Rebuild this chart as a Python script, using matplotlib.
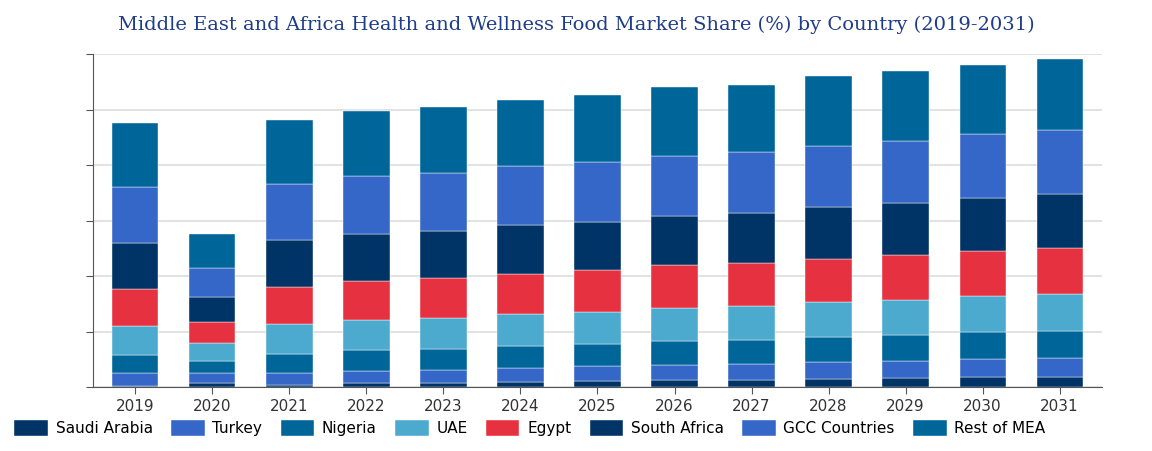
import matplotlib
matplotlib.use("Agg")
import matplotlib.pyplot as plt
import numpy as np

years = [str(y) for y in range(2019, 2032)]
series = ["Saudi Arabia", "Turkey", "Nigeria", "UAE", "Egypt", "South Africa", "GCC Countries", "Rest of MEA"]
saudi = [0.24, 0.8, 0.4, 0.66, 0.7, 0.9, 1.1, 1.3, 1.3, 1.4, 1.6, 1.8, 1.8]
turkey = [2.2, 1.7, 2.2, 2.3, 2.3, 2.5, 2.7, 2.7, 2.9, 3.1, 3.1, 3.2, 3.4]
nigeria = [3.4, 2.2, 3.4, 3.7, 3.8, 4.0, 4.0, 4.3, 4.3, 4.5, 4.7, 4.9, 4.9]
uae = [5.1, 3.2, 5.3, 5.4, 5.6, 5.8, 5.8, 6.0, 6.1, 6.3, 6.3, 6.5, 6.7]
egypt = [6.8, 3.8, 6.8, 7.0, 7.2, 7.2, 7.4, 7.6, 7.8, 7.8, 8.0, 8.1, 8.3]
south_africa = [8.2, 4.5, 8.4, 8.5, 8.5, 8.8, 8.8, 9.0, 9.0, 9.4, 9.4, 9.6, 9.6]
gcc = [10.1, 5.3, 10.1, 10.4, 10.5, 10.6, 10.8, 10.8, 11.0, 11.0, 11.2, 11.4, 11.6]
rest = [11.5, 6.1, 11.5, 11.7, 11.9, 11.9, 12.1, 12.3, 12.1, 12.6, 12.6, 12.6, 12.8]
data = [saudi, turkey, nigeria, uae, egypt, south_africa, gcc, rest]
colors = ["#003366", "#3467c8", "#006699", "#4daacf", "#e63240", "#003366", "#3467c8", "#006699"]

fig = plt.figure(figsize=(11.52, 4.51), dpi=100)
ax = fig.add_axes([93/1152, 1-387/451, (1102-93)/1152, (387-54)/451])
x = np.arange(len(years))
bottom = np.zeros(len(years))
for name, vals, c in zip(series, data, colors):
    ax.bar(x, vals, 0.6, bottom=bottom, color=c, label=name, edgecolor="#ffffff", linewidth=0.3, zorder=3)
    bottom += np.array(vals)

ax.set_ylim(0, 60)
ax.set_xlim(-0.55, len(years) - 0.45)
ax.set_yticks(np.arange(0, 61, 10))
ax.set_yticklabels([])
ax.yaxis.grid(True, color="#dddddd", linewidth=1.2, zorder=0)
ax.set_xticks(x)
ax.set_xticklabels(years, fontsize=11, color="#333333")
for s in ["top", "right"]:
    ax.spines[s].set_visible(False)
ax.spines["left"].set_color("#555555")
ax.spines["bottom"].set_color("#555555")
ax.tick_params(axis="y", length=5, color="#555555")
ax.tick_params(axis="x", length=5, color="#555555")

fig.text(0.5, 1-25/451, "Middle East and Africa Health and Wellness Food Market Share (%) by Country (2019-2031)",
         ha="center", va="center", fontsize=14, family="DejaVu Serif", color="#1f3c88")
fig.legend(loc="center", bbox_to_anchor=(0.46, 1-428/451), ncol=8, frameon=False, fontsize=11,
           handlelength=2.2, handleheight=1.2, columnspacing=1.2, handletextpad=0.5)
fig.savefig("out.png", dpi=100)
